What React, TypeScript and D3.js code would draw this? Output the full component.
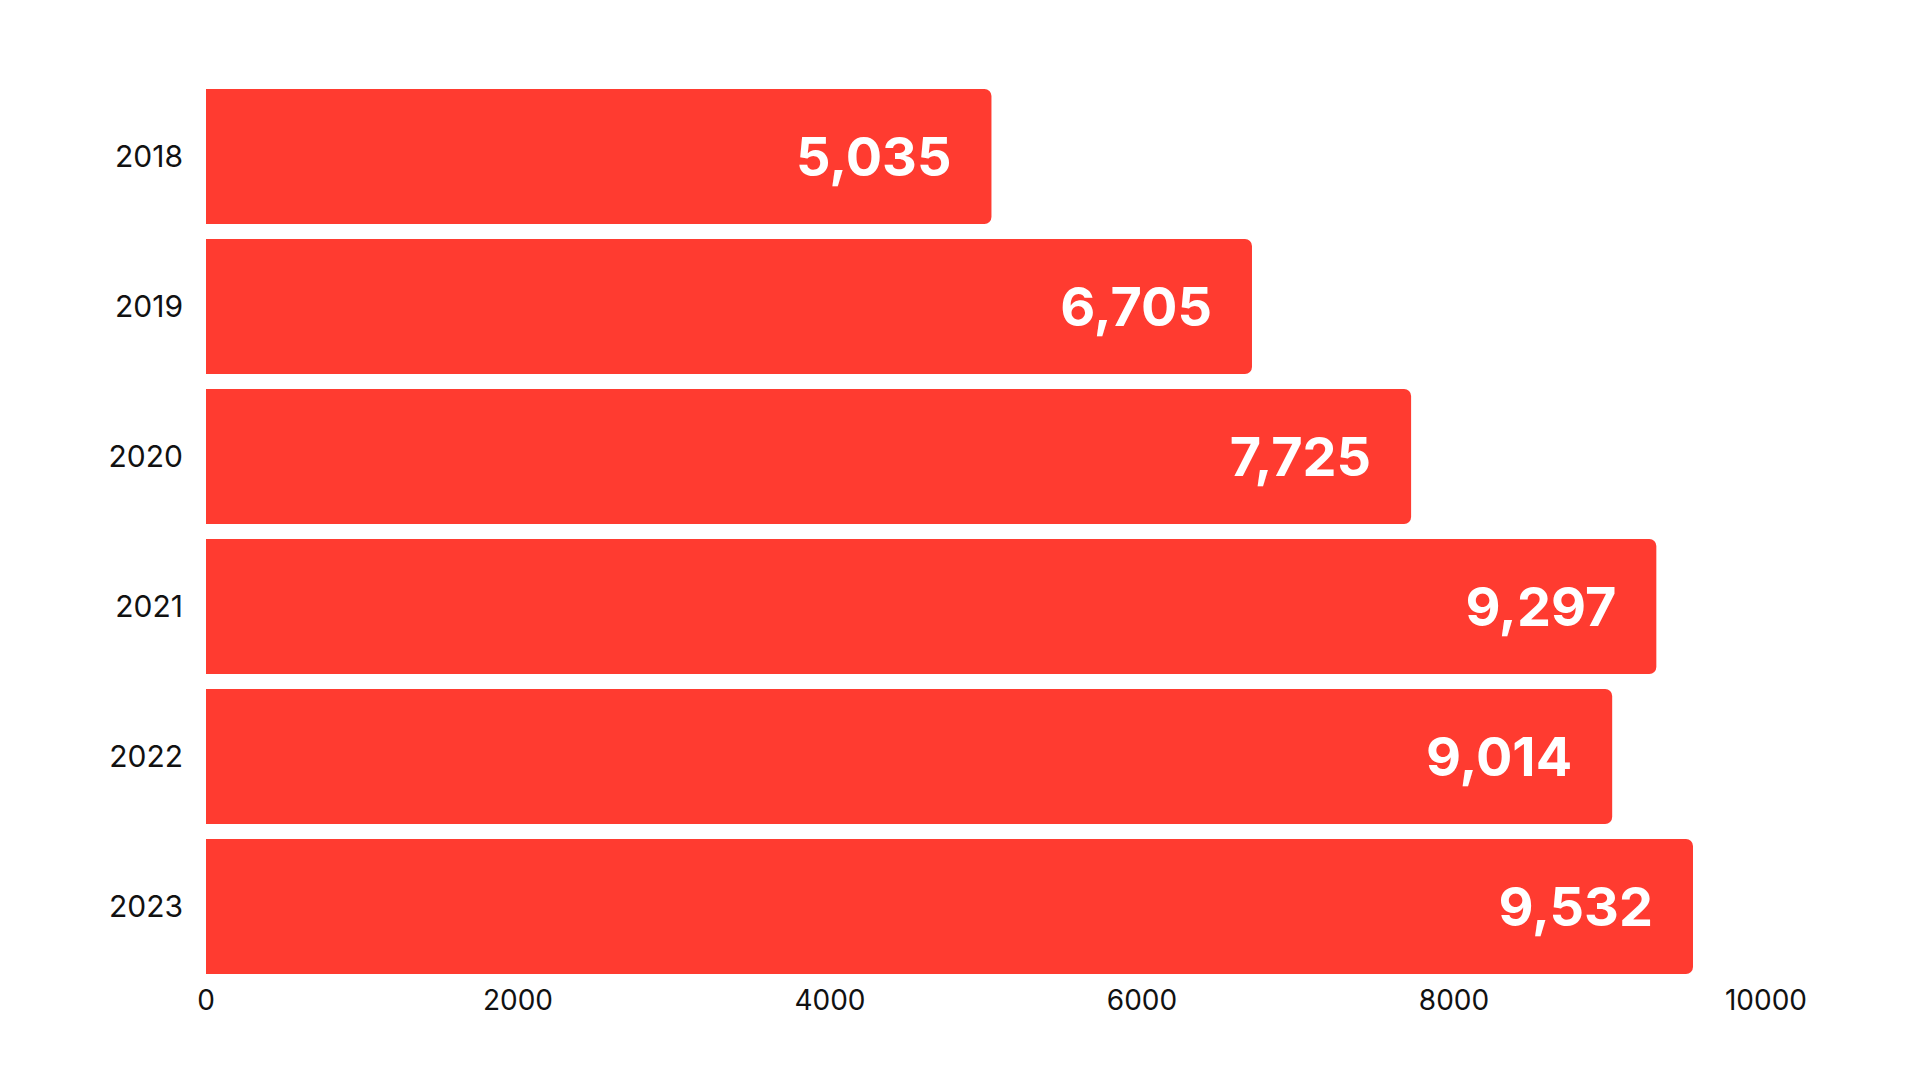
import React from "react";
import * as d3 from "d3";

const years: string[] = ["2018", "2019", "2020", "2021", "2022", "2023"];
const values: number[] = [5035, 6705, 7725, 9297, 9014, 9532];
const xTicks: number[] = [0, 2000, 4000, 6000, 8000, 10000];

const W = 1920;
const H = 1080;
const BAR_COLOR = "#FF3B30";
const FONT = "Inter, 'DejaVu Sans', sans-serif";

function barPath(x0: number, x1: number, y0: number, h: number, r: number): string {
  const rr = Math.min(r, (x1 - x0) / 2, h / 2);
  const p = d3.path();
  p.moveTo(x0, y0);
  p.lineTo(x1 - rr, y0);
  p.arcTo(x1, y0, x1, y0 + rr, rr);
  p.lineTo(x1, y0 + h - rr);
  p.arcTo(x1, y0 + h, x1 - rr, y0 + h, rr);
  p.lineTo(x0, y0 + h);
  p.closePath();
  return p.toString();
}

export default function App() {
  const x = d3.scaleLinear().domain([0, 10000]).range([206, 1766]);
  const y = d3
    .scaleBand<string>()
    .domain(years)
    .range([89, 974])
    .paddingInner(0.1)
    .paddingOuter(0);
  const fmt = d3.format(",");
  const bw = y.bandwidth();
  const axisY = (y(years[years.length - 1]) ?? 0) + bw;

  return (
    <svg
      width={W}
      height={H}
      viewBox={`0 0 ${W} ${H}`}
      style={{ position: "absolute", left: 0, top: 0, display: "block", background: "#ffffff" }}
    >
      <rect x={0} y={0} width={W} height={H} fill="#ffffff" />
      {years.map((yr, i) => {
        const y0 = y(yr) ?? 0;
        const x1 = x(values[i]);
        const cy = y0 + bw / 2;
        return (
          <g key={yr}>
            <path d={barPath(x(0), x1, y0, bw, 7)} fill={BAR_COLOR} />
            <text
              x={x(0) - 23}
              y={cy}
              dy="0.36em"
              textAnchor="end"
              fontFamily={FONT}
              fontSize={30}
              fontWeight={400}
              fill="#111111"
            >
              {yr}
            </text>
            <text
              x={x1 - 40}
              y={cy}
              dy="0.36em"
              textAnchor="end"
              fontFamily={FONT}
              fontSize={54}
              fontWeight={700}
              fill="#ffffff"
            >
              {fmt(values[i])}
            </text>
          </g>
        );
      })}
      {xTicks.map((t) => (
        <text
          key={t}
          x={x(t)}
          y={axisY + 36}
          textAnchor="middle"
          fontFamily={FONT}
          fontSize={28}
          fontWeight={400}
          fill="#111111"
        >
          {t}
        </text>
      ))}
    </svg>
  );
}
